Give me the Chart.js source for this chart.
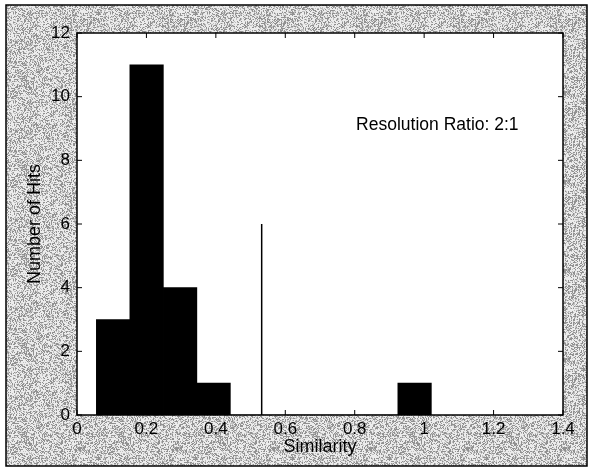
<!DOCTYPE html>
<html><head><meta charset="utf-8">
<script src="https://cdn.jsdelivr.net/npm/chart.js@4.4.1/dist/chart.umd.min.js"></script>
<style>html,body{margin:0;padding:0;background:#fff;} #wrap{width:590px;height:469px;position:relative;}</style>
</head><body><div id="wrap"><canvas id="c" width="590" height="469"></canvas></div>
<script>
// ---- data ----
const binCenters = [0.104, 0.2005, 0.297, 0.3935, 0.490, 0.5865, 0.683, 0.7795, 0.876, 0.9725];
const hitCounts  = [3, 11, 4, 1, 0, 0, 0, 0, 0, 1];
const markerX = [0.532, 0.532];
const markerY = [0, 6];
const xTickValues = [0, 0.2, 0.4, 0.6, 0.8, 1, 1.2, 1.4];
const yTickValues = [0, 2, 4, 6, 8, 10, 12];
const xTitle = 'Similarity';
const yTitle = 'Number of Hits';
const noteText = 'Resolution Ratio: 2:1';
const notePoint = {x: 0.804, y: 9.1};

const FONT = "'Liberation Sans', Arial, Helvetica, sans-serif";

// halftone-like gray texture for the scanned background
function makeTexture(ctx) {
  const t = document.createElement('canvas');
  t.width = 97; t.height = 89;
  const tc = t.getContext('2d');
  const img = tc.createImageData(t.width, t.height);
  let s = 12345;
  for (let i = 0; i < t.width * t.height; i++) {
    s = (s * 1103515245 + 12345) & 0x7fffffff;
    const r = (s >> 8) % 100;
    const v = r < 30 ? 145 : (r < 50 ? 192 : 236);
    img.data[i*4] = v; img.data[i*4+1] = v; img.data[i*4+2] = v; img.data[i*4+3] = 255;
  }
  tc.putImageData(img, 0, 0);
  return ctx.createPattern(t, 'repeat');
}

const framePlugin = {
  id: 'frame',
  beforeDraw(chart) {
    const ctx = chart.ctx, a = chart.chartArea;
    ctx.save();
    ctx.fillStyle = '#fff';
    ctx.fillRect(0, 0, chart.width, chart.height);
    ctx.fillStyle = makeTexture(ctx);
    ctx.fillRect(6, 5, 581, 461);
    ctx.strokeStyle = '#000';
    ctx.lineWidth = 1.5;
    ctx.strokeRect(6, 5, 581, 461);
    ctx.fillStyle = '#fff';
    ctx.fillRect(a.left, a.top, a.right - a.left, a.bottom - a.top);
    ctx.restore();
  },
  afterDatasetsDraw(chart) {
    const ctx = chart.ctx, a = chart.chartArea;
    const xs = chart.scales.x, ys = chart.scales.y;
    ctx.save();
    ctx.strokeStyle = '#000';
    ctx.lineWidth = 1.5;
    ctx.strokeRect(a.left, a.top, a.right - a.left, a.bottom - a.top);
    const L = 5;
    ctx.beginPath();
    xTickValues.forEach(v => {
      const px = xs.getPixelForValue(v);
      ctx.moveTo(px, a.bottom); ctx.lineTo(px, a.bottom - L);
      ctx.moveTo(px, a.top); ctx.lineTo(px, a.top + L);
    });
    yTickValues.forEach(v => {
      const py = ys.getPixelForValue(v);
      ctx.moveTo(a.left, py); ctx.lineTo(a.left + L, py);
      ctx.moveTo(a.right, py); ctx.lineTo(a.right - L, py);
    });
    ctx.lineWidth = 1;
    ctx.stroke();
    ctx.fillStyle = '#000';
    ctx.font = '17.5px ' + FONT;
    ctx.textAlign = 'left';
    ctx.textBaseline = 'middle';
    ctx.fillText(noteText, xs.getPixelForValue(notePoint.x), ys.getPixelForValue(notePoint.y));
    ctx.restore();
  }
};

new Chart(document.getElementById('c'), {
  type: 'bar',
  data: {
    datasets: [
      {
        type: 'bar',
        data: binCenters.map((x, i) => ({x: x, y: hitCounts[i]})),
        backgroundColor: '#000',
        borderWidth: 0,
        barPercentage: 1,
        categoryPercentage: 1
      },
      {
        type: 'line',
        data: markerX.map((x, i) => ({x: x, y: markerY[i]})),
        borderColor: '#000',
        borderWidth: 1.5,
        pointRadius: 0,
        fill: false
      }
    ]
  },
  plugins: [framePlugin],
  options: {
    responsive: false,
    animation: false,
    events: [],
    layout: {padding: {top: 33, right: 27, left: 0, bottom: 0}},
    plugins: {legend: {display: false}, tooltip: {enabled: false}},
    scales: {
      x: {
        type: 'linear',
        offset: false,
        min: 0, max: 1.4,
        grid: {display: false, drawTicks: false},
        border: {display: false},
        afterBuildTicks: s => { s.ticks = xTickValues.map(v => ({value: v})); },
        afterFit: s => { s.height = 54; },
        ticks: {
          color: '#000', padding: 4,
          font: {family: FONT, size: 17},
          maxRotation: 0, autoSkip: false,
          callback: v => String(+Number(v).toFixed(1))
        },
        title: {display: true, text: xTitle, color: '#000', font: {family: FONT, size: 18}, padding: {top: 0, bottom: 11}}
      },
      y: {
        type: 'linear',
        min: 0, max: 12,
        grid: {display: false, drawTicks: false},
        border: {display: false},
        afterBuildTicks: s => { s.ticks = yTickValues.map(v => ({value: v})); },
        afterFit: s => { s.width = 77; },
        ticks: {
          color: '#000', padding: 7,
          font: {family: FONT, size: 17},
          autoSkip: false
        },
        title: {display: true, text: yTitle, color: '#000', font: {family: FONT, size: 18}, padding: {top: 24, bottom: 0}}
      }
    }
  }
});
</script>
</body></html>
